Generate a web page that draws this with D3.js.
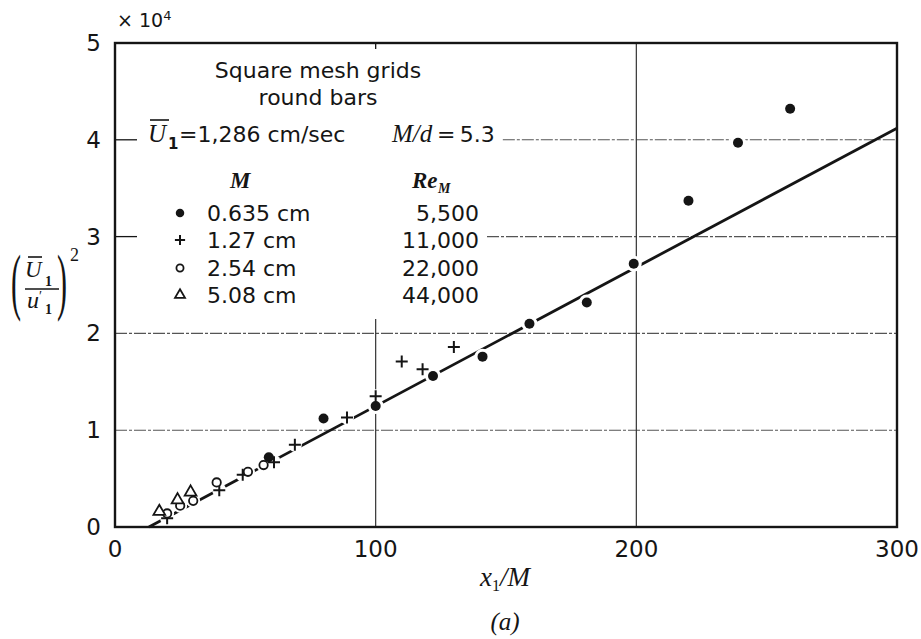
<!DOCTYPE html>
<html><head><meta charset="utf-8">
<script src="https://cdn.jsdelivr.net/npm/d3@7"></script>
<style>body{margin:0;background:#fff} svg{display:block}</style>
</head><body>
<svg id="chart" width="921" height="639"></svg>
<script>
// (U1/u1')^2 in units of 10^4 against x1/M, four grid mesh sizes
const dotX  = [59, 80, 100, 122, 141, 159, 181, 199, 220, 239, 259];
const dotY  = [0.72, 1.12, 1.25, 1.56, 1.76, 2.10, 2.32, 2.72, 3.37, 3.97, 4.32];
const plusX = [20, 40, 49, 61, 69, 89, 100, 110, 118, 130];
const plusY = [0.09, 0.38, 0.54, 0.67, 0.85, 1.13, 1.35, 1.71, 1.63, 1.86];
const circX = [20, 25, 30, 39, 51, 57];
const circY = [0.14, 0.22, 0.27, 0.46, 0.57, 0.64];
const triX  = [17, 24, 29];
const triY  = [0.16, 0.28, 0.36];
// straight-line fit
const fitX = [13, 300];
const fitY = [0, 4.12];
// axes
const xTicks = [0, 100, 200, 300];
const yTicks = [0, 1, 2, 3, 4, 5];
// legend
const meshSizes = ["0.635 cm", "1.27 cm", "2.54 cm", "5.08 cm"];
const reynolds  = ["5,500", "11,000", "22,000", "44,000"];
const symbols   = ["dot", "plus", "circle", "triangle"];

const ink = "#151515";
const sans = "'DejaVu Sans', sans-serif";
const serif = "'Liberation Serif', 'DejaVu Serif', serif";

const svg = d3.select("#chart");
const x = d3.scaleLinear().domain([0, 300]).range([115, 897]);
const y = d3.scaleLinear().domain([0, 5]).range([527, 43]);

const zip = (a, b) => a.map((v, i) => [v, b[i]]);
const series = [
  {sym: "dot", pts: zip(dotX, dotY)},
  {sym: "plus", pts: zip(plusX, plusY)},
  {sym: "circle", pts: zip(circX, circY)},
  {sym: "triangle", pts: zip(triX, triY)}
];

function drawSymbol(g, sym, cx, cy, k) {
  k = k || 1;
  if (sym === "dot") {
    g.append("circle").attr("cx", cx).attr("cy", cy).attr("r", 5 * k).attr("fill", ink);
  } else if (sym === "plus") {
    const s = 6 * k;
    g.append("path").attr("d", `M${cx - s},${cy}H${cx + s}M${cx},${cy - s}V${cy + s}`)
      .attr("stroke", ink).attr("stroke-width", 2).attr("fill", "none");
  } else if (sym === "circle") {
    g.append("circle").attr("cx", cx).attr("cy", cy).attr("r", 4.2 * k)
      .attr("fill", "#fff").attr("stroke", ink).attr("stroke-width", 1.8);
  } else {
    g.append("path").attr("d", d3.symbol(d3.symbolTriangle, 60 * k * k)())
      .attr("transform", `translate(${cx},${cy})`)
      .attr("fill", "#fff").attr("stroke", ink).attr("stroke-width", 1.8);
  }
}

// ---------- legend and annotation text ----------
const legend = svg.append("g").attr("fill", ink);
const legendTexts = [];
function t(g, str, xx, yy, opts) {
  const el = g.append("text").attr("x", xx).attr("y", yy).text(str)
    .attr("font-family", (opts && opts.family) || sans)
    .attr("font-size", (opts && opts.size) || 22);
  if (opts && opts.anchor) el.attr("text-anchor", opts.anchor);
  if (opts && opts.italic) el.attr("font-style", "italic");
  if (opts && opts.bold) el.attr("font-weight", "bold");
  legendTexts.push(el);
  return el;
}

t(legend, "Square mesh grids", 318, 78, {anchor: "middle"});
t(legend, "round bars", 318, 105, {anchor: "middle"});

t(legend, "U", 148, 142, {family: serif, italic: true, size: 25});
legend.append("line").attr("x1", 150).attr("x2", 169).attr("y1", 120).attr("y2", 120)
  .attr("stroke", ink).attr("stroke-width", 1.6);
t(legend, "1", 168, 149, {size: 15, bold: true});
t(legend, "=1,286 cm/sec", 179, 142, {size: 22});
t(legend, "M/d", 392, 142, {family: serif, italic: true, size: 25});
t(legend, "=\u20095.3", 437, 142, {size: 22});

t(legend, "M", 230, 188, {family: serif, italic: true, bold: true, size: 23});
t(legend, "Re", 412, 188, {family: serif, italic: true, bold: true, size: 23});
t(legend, "M", 438, 193, {family: serif, italic: true, bold: true, size: 14});

const rowY = [221, 248, 276, 303];
meshSizes.forEach((m, i) => {
  drawSymbol(legend, symbols[i], 180, rowY[i] - 8, 0.85);
  t(legend, m, 207, rowY[i]);
  t(legend, reynolds[i], 479, rowY[i], {anchor: "end"});
});

// ---------- grid ----------
const grid = svg.insert("g", ":first-child");
const gridStyle = s => s.attr("stroke", "#555").attr("stroke-width", 1.1)
  .attr("stroke-dasharray", "12,2,3,2").attr("fill", "none");

const boxes = legendTexts.map(e => e.node().getBBox());
[1, 2, 3, 4].forEach(v => {
  const py = y(v);
  const hits = boxes.filter(b => b.y - 2 <= py && b.y + b.height + 2 >= py);
  if (hits.length) {
    grid.append("line").attr("x1", x(0)).attr("x2", x(0) + 22).attr("y1", py).attr("y2", py)
      .attr("stroke", ink).attr("stroke-width", 1.3);
    const right = d3.max(hits, b => b.x + b.width) + 8;
    gridStyle(grid.append("line").attr("x1", right).attr("x2", x(300)).attr("y1", py).attr("y2", py));
  } else {
    gridStyle(grid.append("line").attr("x1", x(0)).attr("x2", x(300)).attr("y1", py).attr("y2", py));
  }
});
// vertical rules
const vRules = [[100, 0, 2.15], [200, 0, 5]];
vRules.forEach(([xv, y0, y1]) => {
  grid.append("line").attr("x1", x(xv)).attr("x2", x(xv)).attr("y1", y(y0)).attr("y2", y(y1))
    .attr("stroke", "#333").attr("stroke-width", 1.2);
});
grid.append("line").attr("x1", x(100)).attr("x2", x(100)).attr("y1", y(5)).attr("y2", y(5) + 6)
  .attr("stroke", ink).attr("stroke-width", 1.3);

// ---------- fitted line ----------
const plot = svg.append("g");
plot.append("path").datum(zip(fitX, fitY))
  .attr("d", d3.line().x(d => x(d[0])).y(d => y(d[1])))
  .attr("stroke", ink).attr("stroke-width", 2.8).attr("fill", "none");

// white halos break the line around each point
const halos = plot.append("g");
series.forEach(s => s.pts.forEach(p => {
  halos.append("circle").attr("cx", x(p[0])).attr("cy", y(p[1]))
    .attr("r", s.sym === "dot" ? 8 : 7).attr("fill", "#fff");
}));
const marks = plot.append("g");
series.forEach(s => s.pts.forEach(p => drawSymbol(marks, s.sym, x(p[0]), y(p[1]))));

// ---------- frame ----------
svg.append("rect").attr("x", x(0)).attr("y", y(5)).attr("width", x(300) - x(0)).attr("height", y(0) - y(5))
  .attr("fill", "none").attr("stroke", ink).attr("stroke-width", 2.4);

// ---------- tick labels ----------
const lab = svg.append("g").attr("fill", ink).attr("font-family", sans).attr("font-size", 23);
xTicks.forEach(v => lab.append("text").attr("x", x(v)).attr("y", 557).attr("text-anchor", "middle").text(v));
yTicks.forEach(v => lab.append("text").attr("x", 101).attr("y", y(v) + 8).attr("text-anchor", "end").text(v));

const mult = lab.append("text").attr("x", 117).attr("y", 27).attr("font-size", 19);
mult.append("tspan").text("× 10");
mult.append("tspan").attr("font-size", 13).attr("dy", -7).text("4");

// ---------- axis titles ----------
const xt = svg.append("text").attr("x", 505).attr("y", 586).attr("text-anchor", "middle")
  .attr("fill", ink).attr("font-family", serif).attr("font-size", 27).attr("font-style", "italic");
xt.append("tspan").text("x");
xt.append("tspan").attr("font-size", 16).attr("font-style", "normal").attr("dy", 5).text("1");
xt.append("tspan").attr("dy", -5).text("/M");

svg.append("text").attr("x", 505).attr("y", 630).attr("text-anchor", "middle")
  .attr("fill", ink).attr("font-family", serif).attr("font-size", 25).attr("font-style", "italic").text("(a)");

// y title: (U1 / u1')^2
const yl = svg.append("g").attr("fill", ink).attr("font-family", serif);
yl.append("text").attr("transform", "translate(11,306) scale(1,2.5)").attr("font-size", 30).text("(");
yl.append("text").attr("transform", "translate(57,306) scale(1,2.5)").attr("font-size", 30).text(")");
yl.append("text").attr("x", 25).attr("y", 277).attr("font-size", 23).attr("font-style", "italic").text("U");
yl.append("line").attr("x1", 28).attr("x2", 42).attr("y1", 257).attr("y2", 257).attr("stroke", ink).attr("stroke-width", 1.6);
yl.append("text").attr("x", 45).attr("y", 286).attr("font-size", 14).attr("font-weight", "bold").text("1");
yl.append("line").attr("x1", 25).attr("x2", 59).attr("y1", 289).attr("y2", 289).attr("stroke", ink).attr("stroke-width", 1.6);
yl.append("text").attr("x", 27).attr("y", 308).attr("font-size", 24).attr("font-style", "italic").text("u");
yl.append("text").attr("x", 39).attr("y", 301).attr("font-size", 14).text("′");
yl.append("text").attr("x", 45).attr("y", 314).attr("font-size", 14).attr("font-weight", "bold").text("1");
yl.append("text").attr("x", 70).attr("y", 261).attr("font-size", 18).text("2");
</script>
</body></html>
